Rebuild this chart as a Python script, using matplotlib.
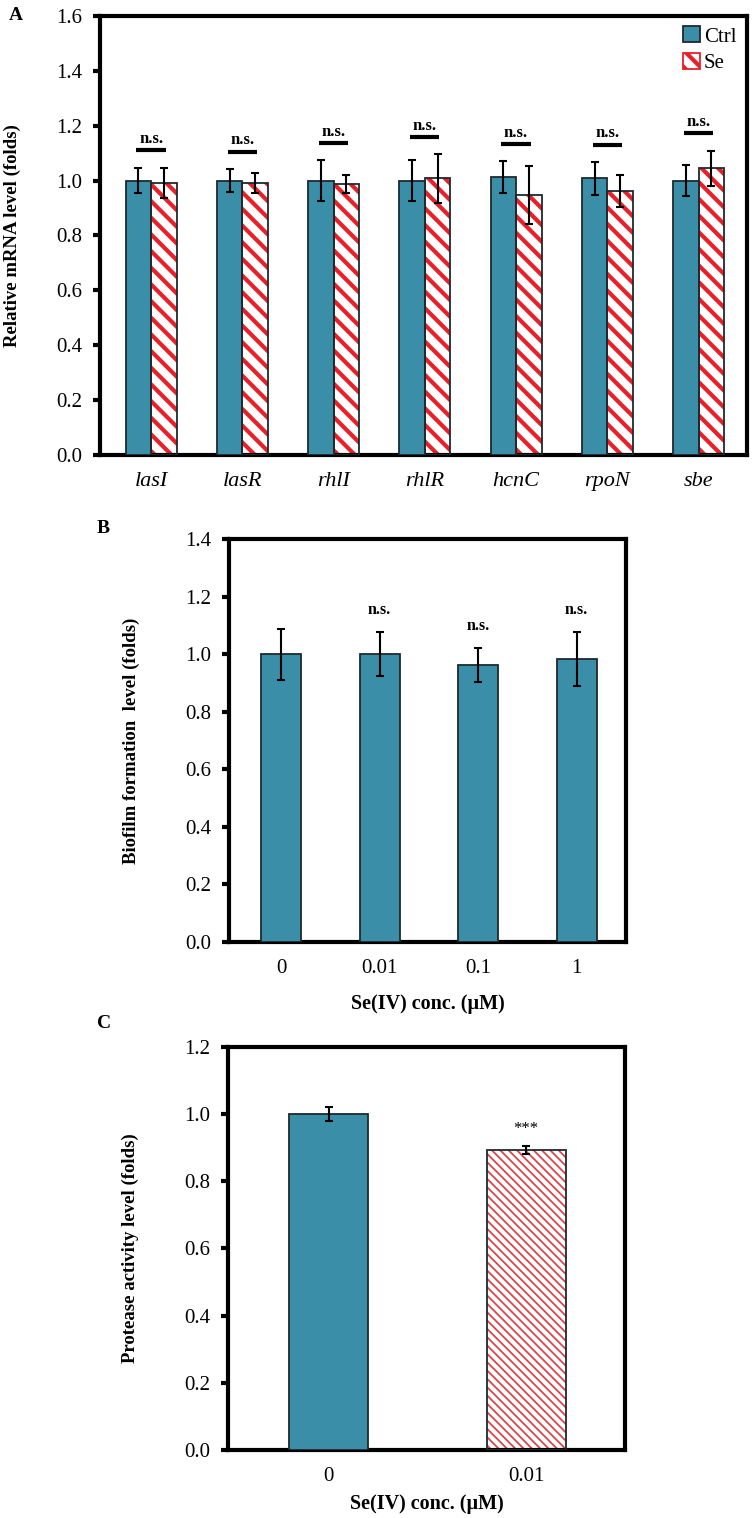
import matplotlib.pyplot as plt
from matplotlib.patches import Patch
import numpy as np

plt.rcParams['font.family'] = ['Liberation Serif', 'DejaVu Serif']
plt.rcParams['hatch.linewidth'] = 3.0

# Panel A: relative mRNA level
genes = ['lasI', 'lasR', 'rhlI', 'rhlR', 'hcnC', 'rpoN', 'sbe']
ctrl = [1.0, 1.0, 1.0, 1.0, 1.012, 1.008, 1.0]
ctrl_err = [0.047, 0.042, 0.074, 0.074, 0.059, 0.06, 0.058]
se = [0.992, 0.991, 0.987, 1.008, 0.947, 0.963, 1.045]
se_err = [0.055, 0.038, 0.034, 0.088, 0.105, 0.059, 0.064]

# Panel B: biofilm formation
conc_b = ['0', '0.01', '0.1', '1']
biofilm = [1.0, 1.0, 0.962, 0.982]
biofilm_err = [0.088, 0.076, 0.059, 0.094]
biofilm_sig = ['', 'n.s.', 'n.s.', 'n.s.']

# Panel C: protease activity
conc_c = ['0', '0.01']
protease = [1.0, 0.893]
protease_err = [0.021, 0.012]
protease_sig = ['', '***']

teal = '#3a8ea7'
red = '#e8202a'
edge = '#1e2a2e'


def style_axes(ax, ymax, step):
    for s in ax.spines.values():
        s.set_linewidth(3)
        s.set_color('black')
    ax.set_ylim(0, ymax)
    ticks = np.arange(0, ymax + 1e-9, step)
    ax.set_yticks(ticks)
    ax.set_yticklabels([f'{v:.1f}' for v in ticks])
    ax.tick_params(axis='y', direction='out', length=5, width=3, labelsize=15, pad=8)
    ax.tick_params(axis='x', length=0, labelsize=15, pad=12)


def hatched_bar(ax, x, h, w, color, hatch, lw):
    # hatch drawn in colour, outline drawn on top in dark
    plt.rcParams['hatch.linewidth'] = lw
    ax.bar(x, h, w, color='white', edgecolor=color, hatch=hatch, linewidth=0, zorder=2)
    ax.bar(x, h, w, color='none', edgecolor=edge, linewidth=1.3, zorder=3)


fig = plt.figure(figsize=(7.54, 15.18), dpi=100)

# ---------------- Panel A ----------------
axA = fig.add_axes([0.1326, 0.7003, 0.858, 0.2892])
x = np.arange(len(genes))
w = 0.28
axA.bar(x - w / 2, ctrl, w, color=teal, edgecolor=edge, linewidth=1.3, zorder=3)
hatched_bar(axA, x + w / 2, se, w, red, '\\\\', 3.0)
axA.errorbar(x - w / 2, ctrl, yerr=ctrl_err, fmt='none', ecolor='black',
             elinewidth=1.5, capsize=3, capthick=1.5, zorder=4)
axA.errorbar(x + w / 2, se, yerr=se_err, fmt='none', ecolor='black',
             elinewidth=1.5, capsize=3, capthick=1.5, zorder=4)

for i in range(len(genes)):
    top = max(ctrl[i] + ctrl_err[i], se[i] + se_err[i])
    yl = top + 0.063
    axA.plot([i - 0.16, i + 0.16], [yl, yl], color='black', lw=3, solid_capstyle='butt')
    axA.text(i, yl + 0.012, 'n.s.', ha='center', va='bottom', fontsize=12,
             fontweight='bold')

axA.set_xlim(-0.56, len(genes) - 0.47)
style_axes(axA, 1.6, 0.2)
axA.set_xticks(x)
axA.set_xticklabels(genes, style='italic', fontsize=16)
axA.set_ylabel('Relative mRNA level (folds)', fontsize=13.5, fontweight='bold')
axA.yaxis.set_label_coords(-0.122, 0.5)

handles = [Patch(facecolor=teal, edgecolor=edge, linewidth=1.3, label='Ctrl'),
           Patch(facecolor='white', edgecolor=red, hatch='\\\\', linewidth=1.3, label='Se')]
axA.legend(handles=handles, loc='upper right', bbox_to_anchor=(1.0, 1.0),
           frameon=False, fontsize=15, handlelength=0.8, handleheight=0.8,
           handletextpad=0.2, labelspacing=0.3, borderaxespad=0.1)
fig.text(0.012, 0.99, 'A', fontsize=14, fontweight='bold', va='center')

# ---------------- Panel B ----------------
axB = fig.add_axes([0.3037, 0.3794, 0.5265, 0.2655])
xb = np.arange(len(conc_b))
axB.bar(xb, biofilm, 0.41, color=teal, edgecolor=edge, linewidth=1.3, zorder=3)
axB.errorbar(xb, biofilm, yerr=biofilm_err, fmt='none', ecolor='black',
             elinewidth=1.5, capsize=3, capthick=1.5, zorder=4)
for i, s in enumerate(biofilm_sig):
    if s:
        axB.text(i, biofilm[i] + biofilm_err[i] + 0.078, s, ha='center', va='center',
                 fontsize=11.5, fontweight='bold')
axB.set_xlim(-0.53, len(conc_b) - 0.5)
style_axes(axB, 1.4, 0.2)
axB.set_xticks(xb)
axB.set_xticklabels(conc_b)
axB.set_xlabel('Se(IV) conc. (\u00b5M)', fontsize=14.5, fontweight='bold', labelpad=12)
axB.set_ylabel('Biofilm formation  level (folds)', fontsize=13.5, fontweight='bold')
axB.yaxis.set_label_coords(-0.225, 0.5)
fig.text(0.128, 0.652, 'B', fontsize=14, fontweight='bold', va='center')

# ---------------- Panel C ----------------
axC = fig.add_axes([0.3024, 0.0448, 0.5265, 0.2655])
xc = np.arange(len(conc_c))
axC.bar(xc[0], protease[0], 0.40, color=teal, edgecolor=edge, linewidth=1.3, zorder=3)
hatched_bar(axC, xc[1], protease[1], 0.40, '#d9464c', '\\\\\\\\', 1.3)
axC.errorbar(xc, protease, yerr=protease_err, fmt='none', ecolor='black',
             elinewidth=1.5, capsize=3, capthick=1.5, zorder=4)
for i, s in enumerate(protease_sig):
    if s:
        axC.text(i, protease[i] + protease_err[i] + 0.05, s, ha='center', va='center',
                 fontsize=12)
axC.set_xlim(-0.51, len(conc_c) - 0.5)
style_axes(axC, 1.2, 0.2)
axC.set_xticks(xc)
axC.set_xticklabels(conc_c)
axC.set_xlabel('Se(IV) conc. (\u00b5M)', fontsize=14.5, fontweight='bold', labelpad=6)
axC.set_ylabel('Protease activity level (folds)', fontsize=13.5, fontweight='bold')
axC.yaxis.set_label_coords(-0.225, 0.5)
fig.text(0.128, 0.326, 'C', fontsize=14, fontweight='bold', va='center')

plt.savefig('out.png', dpi=100)
